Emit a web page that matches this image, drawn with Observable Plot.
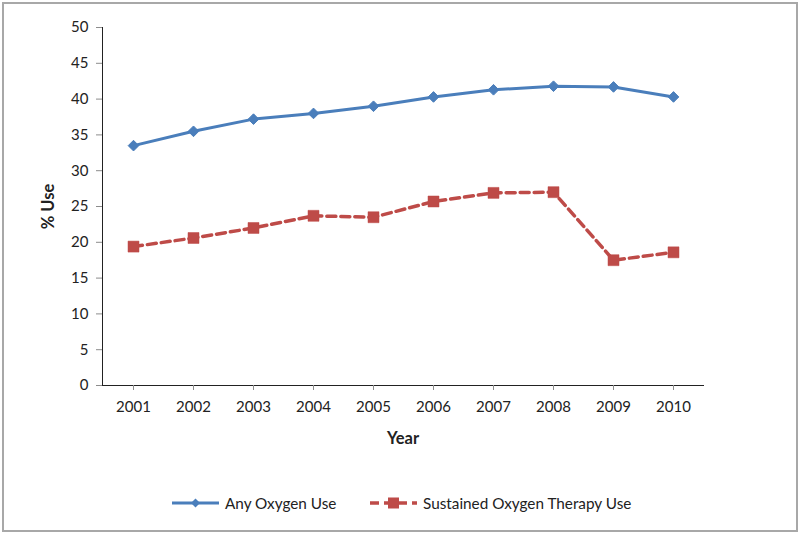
<!DOCTYPE html>
<html>
<head>
<meta charset="utf-8">
<script src="https://cdn.jsdelivr.net/npm/d3@7"></script>
<script src="https://cdn.jsdelivr.net/npm/@observablehq/plot@0.6"></script>
<style>
  html, body { margin: 0; padding: 0; background: #fff; }
  body { width: 800px; height: 535px; position: relative; overflow: hidden; font-family: Lato, "Open Sans", sans-serif; }
  #frame { position: absolute; left: 2px; top: 2px; width: 796px; height: 530px; box-sizing: border-box; border: 2px solid #a8a8a8; pointer-events: none; }
  #chart { position: absolute; left: 0; top: 0; }
  #legend { position: absolute; left: 0; top: 492px; width: 800px; height: 22px; font-size: 15.3px; color: #222; }
  .item { position: absolute; top: 0; display: flex; align-items: center; height: 22px; }
  .item svg { margin-right: 6px; }
</style>
</head>
<body>
<div id="chart"></div>
<div id="legend"></div>
<div id="frame"></div>
<script>
const years = ["2001","2002","2003","2004","2005","2006","2007","2008","2009","2010"];
const anyOxygen = [33.5, 35.5, 37.2, 38.0, 39.0, 40.3, 41.3, 41.8, 41.7, 40.3];
const sustainedOxygen = [19.4, 20.6, 22.0, 23.7, 23.5, 25.7, 26.9, 27.0, 17.5, 18.6];
const seriesNames = ["Any Oxygen Use", "Sustained Oxygen Therapy Use"];
const yTicks = [0, 5, 10, 15, 20, 25, 30, 35, 40, 45, 50];
const xLabel = "Year";
const yLabel = "% Use";

const blue = "#4a7ebb";
const red = "#be4b48";

const dataAny = years.map((y, i) => ({year: y, value: anyOxygen[i]}));
const dataSus = years.map((y, i) => ({year: y, value: sustainedOxygen[i]}));

const chart = Plot.plot({
  width: 800,
  height: 470,
  marginLeft: 102,
  marginRight: 97,
  marginTop: 27,
  marginBottom: 85,
  style: {fontFamily: "Lato, 'Open Sans', sans-serif", fontSize: "15px", color: "#222", background: "transparent"},
  x: {type: "point", domain: years, padding: 0.5, line: true, tickSize: 5, tickPadding: 11, label: xLabel, labelAnchor: "center", labelOffset: 58},
  y: {domain: [0, 50], ticks: yTicks, line: true, tickSize: 6, tickPadding: 8, label: yLabel, labelAnchor: "center", labelOffset: 60, labelArrow: false},
  marks: [
    Plot.line(dataAny, {x: "year", y: "value", stroke: blue, strokeWidth: 3}),
    Plot.dot(dataAny, {x: "year", y: "value", symbol: "diamond2", r: 4.8, fill: blue, stroke: blue, strokeWidth: 1}),
    Plot.line(dataSus, {x: "year", y: "value", stroke: red, strokeWidth: 3.5, strokeDasharray: "9,5"}),
    Plot.dot(dataSus, {x: "year", y: "value", symbol: "square", r: 6.2, fill: red, stroke: red, strokeWidth: 0.5})
  ]
});
chart.querySelectorAll("[aria-label='x-axis label'], [aria-label='y-axis label']").forEach(g => {
  g.setAttribute("font-weight", "bold");
  g.setAttribute("font-size", "16.5px");
});
const yl = chart.querySelector("[aria-label='y-axis label'] text");
if (yl) yl.textContent = yLabel;
const xl = chart.querySelector("[aria-label='x-axis label'] text");
if (xl) xl.textContent = xLabel;
chart.querySelectorAll("[aria-label$='-axis'] path, [aria-label$='-axis tick'] path").forEach(p => p.setAttribute("stroke", "#8c8c8c"));
document.getElementById("chart").appendChild(chart);

// Legend
const legend = document.getElementById("legend");
const legendPos = [172, 370];
seriesNames.forEach((name, i) => {
  const item = document.createElement("div");
  item.className = "item";
  item.style.left = legendPos[i] + "px";
  const color = i === 0 ? blue : red;
  const sw = i === 0
    ? `<svg width="47" height="14"><line x1="0" y1="7" x2="47" y2="7" stroke="${color}" stroke-width="3"/><path d="M23.5,2.5 L28,7 L23.5,11.5 L19,7Z" fill="${color}"/></svg>`
    : `<svg width="47" height="14"><line x1="0" y1="7" x2="47" y2="7" stroke="${color}" stroke-width="3.5" stroke-dasharray="9,5"/><rect x="18" y="1.5" width="11" height="11" fill="${color}"/></svg>`;
  item.innerHTML = sw + `<span>${name}</span>`;
  legend.appendChild(item);
});
</script>
</body>
</html>
